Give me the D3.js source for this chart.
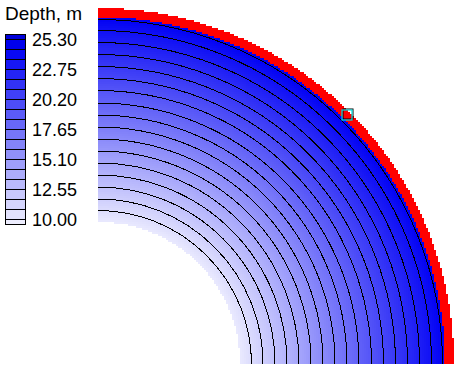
<!DOCTYPE html>
<html>
<head>
<meta charset="utf-8">
<script src="https://cdn.jsdelivr.net/npm/d3@7"></script>
<style>
  body { margin: 0; background: #fff; }
  svg { display: block; }
</style>
</head>
<body>
<div id="chart"></div>
<script>
// depth classes of the legend (m)
const levels = [10.00, 10.85, 11.70, 12.55, 13.40, 14.25, 15.10, 15.95, 16.80, 17.65,
  18.50, 19.35, 20.20, 21.05, 21.90, 22.75, 23.60, 24.45, 25.30]
const tickLabels = ['25.30', '22.75', '20.20', '17.65', '15.10', '12.55', '10.00']

// radius (from the centre of the quarter circle) of each contour line
const contourRadius = [153.5, 165, 177, 189, 201, 213, 225, 237, 249, 261, 273.5, 285.5,
  297.5, 309.5, 321.5, 333.5, 344.5]
const contourDepth = levels.slice(1, 18)

// wet area and the dry rim around it
const wetInner = 142
const wetOuter = 347
const rimOuter = 356
const probe = [249.5, 249.5]

const width = 465, height = 378
const cell = 2

const svg = d3.select('#chart').append('svg')
  .attr('width', width)
  .attr('height', height)

// map coordinates -> pixels
const x = d3.scaleLinear().domain([0, 360]).range([98, 458])
const y = d3.scaleLinear().domain([0, 360]).range([364, 4])

// depth along the radius, through the contour positions
const depthAt = d3.scaleLinear().domain(contourRadius).range(contourDepth)

const color = d3.scaleLinear()
  .domain([9.6, 24.6, 25.7])
  .range(['#f0f0fe', '#0000f4', '#0000d4'])

// grid of cells over the quarter
let cells = []
for (let gx = 0; gx < 360; gx += cell) {
  for (let gy = 0; gy < 360; gy += cell) {
    const r = Math.hypot(gx + cell / 2, gy + cell / 2)
    if (r >= wetInner && r <= wetOuter) {
      cells.push({ x: gx, y: gy, fill: color(depthAt(r)) })
    } else if (r > wetOuter && r <= rimOuter) {
      cells.push({ x: gx, y: gy, fill: '#ff0000' })
    }
  }
}

svg.append('g')
  .attr('shape-rendering', 'crispEdges')
  .selectAll('rect')
  .data(cells)
  .join('rect')
  .attr('x', d => x(d.x))
  .attr('y', d => y(d.y + cell))
  .attr('width', x(cell) - x(0))
  .attr('height', x(cell) - x(0))
  .attr('fill', d => d.fill)

// contour lines
svg.append('g')
  .attr('shape-rendering', 'crispEdges')
  .selectAll('path')
  .data(contourRadius)
  .join('path')
  .attr('d', r => {
    const p = d3.path()
    const rp = x(r) - x(0)
    p.moveTo(x(0), y(r))
    p.arc(x(0), y(0), rp, -Math.PI / 2, 0)
    return p.toString()
  })
  .attr('fill', 'none')
  .attr('stroke', '#000')
  .attr('stroke-width', 1)

// probe marker
svg.append('rect')
  .attr('x', x(probe[0]) - 4.5)
  .attr('y', y(probe[1]) - 5.5)
  .attr('width', 10).attr('height', 10)
  .attr('fill', 'none').attr('stroke', '#000').attr('stroke-width', 1)
svg.append('rect')
  .attr('x', x(probe[0]) - 5.5)
  .attr('y', y(probe[1]) - 4.5)
  .attr('width', 10).attr('height', 10)
  .attr('fill', 'none').attr('stroke', '#00e0e0').attr('stroke-width', 1.2)

// legend
const yL = d3.scaleLinear().domain([10, 25.3]).range([219.5, 39.5])
const half = 0.425
const bands = [{ lo: levels[0] - half, hi: levels[0] }]
for (let k = 0; k < levels.length - 1; k++) bands.push({ lo: levels[k], hi: levels[k + 1] })
bands.push({ lo: levels[levels.length - 1], hi: levels[levels.length - 1] + half })

const legend = svg.append('g').attr('shape-rendering', 'crispEdges')
legend.selectAll('rect.band')
  .data(bands)
  .join('rect')
  .attr('class', 'band')
  .attr('x', 5.5)
  .attr('width', 20)
  .attr('y', d => yL(d.hi))
  .attr('height', d => yL(d.lo) - yL(d.hi))
  .attr('fill', d => color((d.lo + d.hi) / 2))

legend.selectAll('line')
  .data(levels)
  .join('line')
  .attr('x1', 5.5).attr('x2', 25.5)
  .attr('y1', d => yL(d)).attr('y2', d => yL(d))
  .attr('stroke', '#000')

legend.append('rect')
  .attr('x', 5.5).attr('y', yL(levels[18] + half))
  .attr('width', 20).attr('height', yL(levels[0] - half) - yL(levels[18] + half))
  .attr('fill', 'none').attr('stroke', '#000')

svg.append('g')
  .selectAll('text')
  .data(tickLabels)
  .join('text')
  .attr('x', 32)
  .attr('y', d => yL(+d) + 6.5)
  .attr('font-family', 'Liberation Sans, Arial, sans-serif')
  .attr('font-size', 18)
  .text(d => d)

svg.append('text')
  .attr('x', 5)
  .attr('y', 20)
  .attr('font-family', 'Liberation Sans, Arial, sans-serif')
  .attr('font-size', 19)
  .text('Depth, m')
</script>
</body>
</html>
